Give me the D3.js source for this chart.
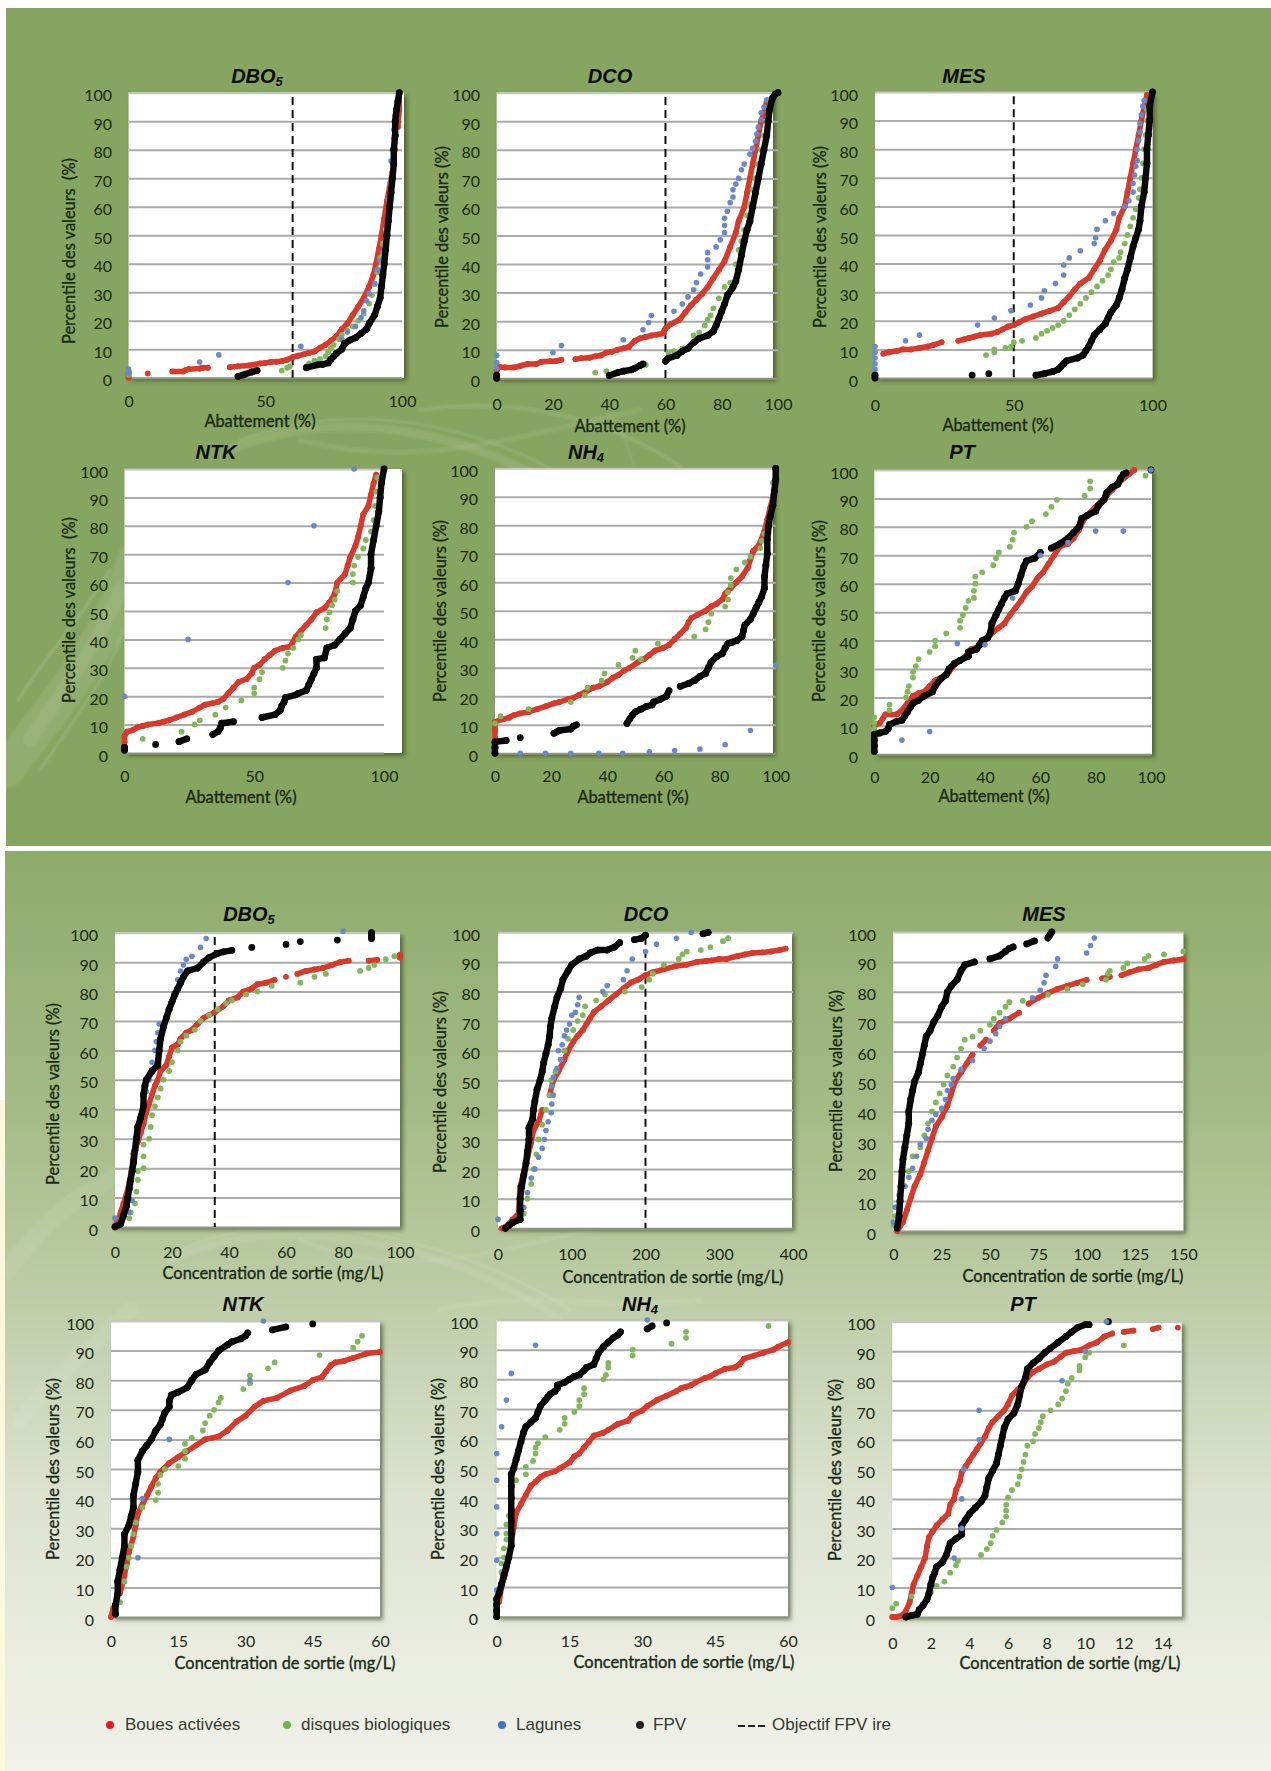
<!DOCTYPE html>
<html><head><meta charset="utf-8"><title>Percentile des valeurs</title>
<style>
html,body{margin:0;padding:0;background:#fff}
svg{display:block}
text{font-family:Lato,"Open Sans",sans-serif;fill:#1b2a17}
.tick text{font-size:16px}
.atitle{font-size:16.4px;white-space:pre;paint-order:stroke;stroke:#1b2a17;stroke-width:.35px}
.ptitle{font-family:"Liberation Sans",Arial,sans-serif;font-size:20px;font-weight:bold;font-style:italic;fill:#0d0d0d}
.leg{font-family:"Liberation Sans",Arial,sans-serif;font-size:17px;fill:#333a30}
</style></head><body>
<script src="https://cdn.jsdelivr.net/npm/d3@7/dist/d3.min.js"></script>
<script>
// ---------- data: [value, percentile] ----------
const aDboRed=[[0,0],[0,1],[0,2],[7,1.5],[16,2.2],[20,2.2],[21,2.7],[22,3],[26,3.2],[27,3.5],[29,3.5],[37,3.7],[40,4],[44,4.3],[46,4.6],[48,5],[50,5.2],[52,5.5],[54,5.6],[56,5.8],[58,6.3],[60,7.2],[62,7.7],[64,8.2],[66,8.7],[68,9.2],[70,10.5],[72,11.5],[74,13],[76,14.5],[78,17],[80,19],[82,22],[84,25],[86,28],[88,32],[89.5,36],[90.5,40],[91.5,45],[92.5,50],[93.5,56],[94.5,62],[95.5,67],[96.5,72],[97.5,80],[98.5,88],[99,94],[99,100]];
const aDboGreen=[[0,1],[0,2],[56,2.5],[58,3.5],[59,4],[65,4],[66,5],[68,6],[70,6.5],[72,7.5],[73,9],[74,10.5],[75,11.5],[77,13.5],[78,15],[80,16.5],[82,18],[84,20],[86,22.5],[88,26],[89,29],[90,33],[91,37],[92,42],[93,47],[94,52]];
const aDboBlue=[[0,3],[0,1.5],[26,5.5],[33,8],[63,11],[78,13.5],[80,16],[83,18],[85,21],[86,23.5],[87,27],[88,29.5],[90,33],[91,38],[92,41],[93,44],[95,62.5],[95.5,68],[96,76],[96.5,80],[97,84],[97,87],[97.5,92]];
const aDboBlack=[[40,0.5],[42,1],[45,2],[47,2.5],[65,3.5],[69,4.5],[71,4.7],[73,5.2],[74,6.5],[75,7.5],[76,8.5],[78,10],[79,12],[81,13.2],[83,14],[85,15.5],[87,17],[88,19],[90,22],[91,25],[92,28],[92.5,32],[93,36],[93.5,40],[94,45],[94.5,50],[95,55],[95.5,60],[96,65],[96.5,70],[97,75],[97,80],[97.5,85],[97.5,90],[98,94],[98.5,97],[99,100]];

const aDcoRed=[[0,1],[0,3],[1,4],[3,3.8],[6,3.8],[8,4.2],[9,4.5],[11,5],[14,5],[16,5.8],[19,6],[21,6],[23,6.5],[28,6.7],[30,7],[33,7.2],[35,7.7],[37,8],[39,9],[41,9.3],[43,10],[45,10.5],[47,11],[49,13],[51,14],[53,14.5],[55,15],[57,15.3],[59,15.7],[60,17.5],[62,19],[65,20.5],[67,23],[69,25.5],[71,27.5],[73,29.5],[75,32],[77,35],[79,38],[81,41],[83,46],[85,51],[86,55],[88,60],[89,65],[90,70],[91,75],[92,80],[93,85],[94,90],[95,93],[96,97]];
const aDcoGreen=[[35,2],[39,2.5],[53,4.7],[61,9],[63,9.5],[66,10.5],[70,15],[72,16],[74,18.5],[75,20.5],[76,22],[77,24.5],[79,28],[81,32],[83,33.5],[85,40],[86,45],[87,48],[88,52],[89,57],[90,61],[91,66],[92,70],[93,75],[94,80],[95,85],[96,90],[97,95],[98,98]];
const aDcoBlue=[[0,8],[0,5.5],[0,3.5],[20,9],[23,11.5],[45,13.5],[52,17],[54,19.5],[55,22],[63,23.5],[66,26],[68,28.5],[70,31],[71,33.5],[72.5,36.5],[75,39],[75,41.5],[75,44],[78,46],[79.5,48.5],[81,51],[81,53.5],[81,56],[82,58.5],[83,61.5],[84,63.5],[84,66],[85,68],[86,70],[87,73],[88,75],[90,78.5],[91,80.5],[92,83],[92.5,85.5],[93,88],[94,90.5],[94,93],[95,95],[96,97.5]];
const aDcoBlack=[[0,0],[0,1],[40,1],[43,2],[45,2.5],[48,3],[49,3.5],[51,4.5],[52,5],[60,6],[61,7],[64,8],[66,9.5],[68,10.5],[70,12.5],[72,14],[75,15],[77,16.5],[78,18.5],[79,21],[80,23.5],[81,26],[82,29],[84,32],[85,34],[86,38],[87,43],[88,48],[89,52],[90,55],[91,60],[92,65],[93,70],[94,75],[95,80],[96,85],[96.5,90],[97,94],[98,98],[99,99.5],[100,100]];

const aMesRed=[[3,8.5],[5,9],[8,9.5],[10,10],[13,10],[16,10.5],[19,11],[21,11.5],[24,12.5],[30,13],[32,13.5],[34,14],[36,14.5],[38,15],[42,15.5],[44,16],[46,17],[48,18],[50,18.5],[52,19.5],[54,20.5],[57,21.5],[60,22.5],[63,23.5],[66,24.5],[68,26.5],[70,28.5],[72,31],[74,33],[77,35],[79,38],[81,41],[83,45],[85,48],[87,52],[88,56],[90,60],[91,65],[92,70],[93,75],[94,80],[95,85],[96,90],[97,95],[98,99]];
const aMesGreen=[[40,8],[43,9],[43,10],[47,10.5],[49,11],[50,12.5],[53,13],[58,14],[60,15.5],[62,16.5],[64,17.5],[66,18.5],[68,20],[70,22],[72,24],[74,26],[76,28],[78,30],[80,32],[82,34],[84,36],[85,38],[86,40.5],[88,42],[88.5,44],[90,47],[91,50],[92,53],[93,56],[94,59],[95,63],[95.5,66],[96,70],[96.5,75],[97,80],[97.5,85],[98,90],[98,94]];
const aMesBlue=[[0,11],[0,9],[0,7],[0,5],[0,3],[11,13],[16,15],[37,18.5],[43,21],[49,23.5],[56,25.5],[60,28],[61,30.5],[65,33],[68,36],[68,39.5],[70,42],[74,44.5],[79,47],[79.5,49],[80,52],[83,55],[86,57.5],[90,60],[91.5,62],[93,65],[93,68],[93.5,71],[94,74],[94.5,76],[94.5,80],[95,83],[95.5,86],[95.5,89],[96,92],[96.5,95],[97,97]];
const aMesBlack=[[0,0],[0,1],[35,1],[41,1.5],[58,1],[61,1.5],[64,2.2],[66,3],[67,4],[68,5],[69,6],[73,7],[75,8],[76,9.5],[77,11],[78,13],[79,15],[81,17],[83,19],[84,21],[85,23],[87,25.5],[88,28],[89,31],[90,35],[91,38],[92,42],[93,46],[94,49],[95,52],[95.5,55],[96,60],[97,65],[97.5,70],[98,75],[98,80],[98.5,85],[99,90],[99,95],[100,100]];

const aNtkRed=[[0,2],[0,4],[0,6],[1,7.5],[3,8],[5,9],[7,9.5],[9,10],[13,10.5],[15,11],[17,11.5],[20,12.5],[23,13.5],[26,14.5],[29,16],[31,17],[34,17.5],[36,18],[38,19],[40,21],[42,23],[44,25],[47,26],[49,28],[50,30],[52,31],[54,33],[56,34.5],[58,36],[61,37],[64,37.5],[66,41],[68,43],[70,45],[72,47],[74,49.5],[77,51],[79,53],[81,56],[82,60],[85,63],[86,66],[87,69],[89,73],[90,76],[91,80],[92,84],[94,87],[95,91],[96,95],[97,98]];
const aNtkGreen=[[7,5],[22,7.5],[27,10],[29,11.5],[35,13.5],[39,16],[45,18.5],[50,21],[50,23],[52,26],[53,28.5],[61,30],[62,32.5],[63,35],[65,37],[67,40],[68,41.5],[77.5,44],[78,47],[79,49.5],[80,52],[81,54],[82,57],[88,60],[88,63],[88.5,66],[90,69],[92,72],[93,75],[95,78],[96,82],[96.5,87],[97,92],[97.5,97]];
const aNtkBlue=[[0,20],[24.5,40],[63,60],[73,80],[88.5,100]];
const aNtkBlack=[[0,1],[0,2],[12,3],[21,4],[24,5],[34,6.5],[36,7.5],[37,9],[37.5,10.5],[42,11],[53,12.5],[58,13.5],[60,15],[60.5,16.5],[61.5,18],[62,19.5],[66,20.5],[67,21],[70,22],[71,24],[72,26],[73,28],[74,30],[74,33],[77,33.5],[78,37],[81,38],[83,40],[85,42],[87,44],[88,47],[89,50],[91,52],[92,55],[93,58],[94,60],[95,65],[95,70],[96,75],[97,80],[98,85],[98.5,90],[99,95],[100,100]];

const aNh4Red=[[0,5],[0,8],[0,11],[3,12],[5,12.5],[7,13.5],[9,14],[12,14.5],[15,15.5],[18,16.5],[21,17.5],[23,18],[26,19],[28,19.5],[30,20.5],[33,22],[35,23],[37,23.5],[40,25],[42,26.5],[44,27.5],[46,29],[48,30],[51,32],[53,33],[55,34.5],[57,36],[60,37],[62,38],[64,40],[66,42],[68,44],[69,46],[70,47.5],[72,48.5],[75,50],[77,51.5],[79,52.5],[81,54],[82,56],[84,58],[86,60],[88,62],[90,65],[91,68],[92,71],[94,73],[96,78],[97,82],[98,86],[99,90],[100,95]];
const aNh4Green=[[0,10.5],[2,13],[12,15.5],[27,18],[32,20.5],[33,23],[38,25.5],[39,28],[44,31],[49,33.5],[50,36],[52,33],[58,38.5],[71,41],[75,43.5],[76,46],[77,49],[82,51.5],[83,54],[83,56.5],[84,59],[84,61.5],[86,64.5],[89,67],[91,69],[94.5,72],[95,74.5],[96,77],[98,80],[99,90],[99,95]];
const aNh4Blue=[[9,0],[18,0],[27,0],[37,0],[45.5,0],[55,0.5],[64,1],[73,1.5],[82,3],[91,8],[100,31]];
const aNh4Black=[[0,0],[0,2],[0,4],[4,4.5],[9,5.5],[21,7],[22,7.5],[23,8],[27,8.5],[28,9.5],[29,10],[47,10.5],[48,12],[49,13.5],[50,14.5],[52,15.5],[54,16.5],[56,17],[56.5,18],[59,19],[61,20],[62,22],[66,23.5],[69,24.5],[71,25.5],[73,27],[75,28],[76,30],[77,32],[79,34],[81,35],[82,37],[83,38.5],[84.5,39],[86,39.5],[88,41],[88.5,43],[89,45],[91,47],[92,49],[93,51],[94,53],[95,55],[96,58],[96,62],[96.5,66],[97,70],[97,75],[97.5,80],[98,83],[99,87],[99.5,92],[100,96],[100,100]];

const aPtRed=[[0,10],[2,11],[3,12.5],[4,14],[6,14],[8,14],[10,15.5],[12,18],[14,20.5],[16,21.5],[18,22],[20,24],[22,26],[25,27.5],[27,29],[29,31.5],[31,33],[33,34.5],[35,37],[37,37.5],[39,39],[41,41],[43,43],[45,44.5],[47,46],[49,49],[51,51.5],[53,54],[55,57],[57,59],[59,62],[61,64],[63,67],[65,70],[67,73],[70,74],[72,76],[74,79],[76,83],[78,85],[80,87],[82,89],[84,91],[86,93],[88,95],[90,97],[92,98.5],[94,100]];
const aPtGreen=[[0,13],[0,11],[0,9],[5.5,17.5],[5.5,15.5],[11.5,20],[12,22],[12.5,24],[14,27],[14,29],[15,31],[16,33.5],[20,36],[22,38],[22,40],[26,42.5],[31,44.5],[31,47],[32,49],[33,51.5],[34,54],[36,55],[36,57.5],[36.5,60],[36.5,62.5],[39,64],[43,66.5],[44,69],[45,71],[49,73],[50,75.5],[50.5,78],[55,80],[57,82],[62,84.5],[64,87],[66,89.5],[76,91],[78,93.5],[78,96],[98,98]];
const aPtBlue=[[10,5],[20,8],[30,39],[40,38.5],[50,55],[60,70],[70,74.5],[80,78.5],[90,78.5],[100,100]];
const aPtBlack=[[0,1],[0,3],[0,5],[0,7],[2,7.5],[4,8],[5,9],[5.5,10.5],[8,11.5],[10,12],[11,13.5],[12,15],[13,16.5],[14,18],[16,19],[18,20.5],[21,22],[22,24],[24,26.5],[26,28],[27,30],[29,32],[31,33],[34,34.5],[34,36],[37,37],[38,38.5],[39,40],[41,41],[42,43],[42.5,46],[44,49],[45,51],[46,53],[47,55],[48,56.5],[51,57.5],[52,60],[53,63],[54,66],[55,68],[58,69],[60,71],[64,72.5],[67,74],[70,76],[72,78],[74,80],[75,83],[77,84],[80,85.5],[81,87.5],[83,89.5],[84,92],[86,94],[88,95],[89,97],[90,98.5],[91,99],[100,100]];

const cDboRed=[[0,0.5],[1,2],[2,5],[3,8],[4,11],[5,15],[6,20],[6.5,25],[7,26],[8,29],[9,32],[10,35],[11,39],[12,42],[13,45],[14,48],[15,50],[16,53],[18,55],[19,58],[20,61],[22,62],[23,64],[25,66],[27,67],[29,69],[31,71],[33,72],[35,73],[38,75],[40,77],[43,78],[45,80],[48,81],[50,82.5],[53,83],[56,84],[60,85],[64,86],[67,87],[70,87.5],[73,88],[76,89],[79,90],[82,90.5],[89,90.5],[92,90.8],[100,91.5],[100,92.5]];
const cDboGreen=[[5,3],[5.5,5],[7,8],[7.5,12],[8,16],[8,19],[10,20],[10,24],[10,28],[12,30],[12.5,34],[13,38],[14,41],[15,44],[16,47],[17,50],[19,53],[20,56],[22,60],[23,63],[25,65],[28,67],[30,70],[33,72],[36,74],[39,76],[41,77],[46,79],[50,80],[55,82],[65,83],[70,85],[74,86],[86,87],[89,88],[91,89],[95,91],[98,92]];
const cDboBlue=[[0,3],[5,5],[6,9],[9,38],[10,42],[11,46],[12,50],[13,56],[14,60],[14.5,63],[15,66],[15.5,69],[22,84],[23,87],[24,89],[25,91],[27,92],[30,95],[32,98],[80,100.5]];
const cDboBlack=[[0,0],[2,1],[3,4],[4,7],[4.5,10],[5,13],[5.5,16],[6,19],[6.5,22],[7,26],[7.5,30],[8,34],[9,37],[10,41],[10,45],[10.5,48],[11,50],[13,53],[15,55],[15.5,60],[16,64],[17,68],[18,71],[19,74],[20,76.5],[21,79],[22,81],[23,83],[24,85],[25.5,87],[29,88],[31,90],[33,91.5],[36,93],[38,93.5],[41,94],[48,95],[60,96],[65,97],[78,97.5],[90,98],[90,99],[90,100]];

const cDcoRed=[[5,0],[10,0.5],[20,3],[28,5],[29,10],[30,14],[35,19],[40,24],[45,29],[48,33],[55,36],[60,40],[70,45],[75,50],[82,53],[90,57],[95,60],[102,63],[108,65],[115,67],[120,69],[125,71],[130,73],[140,75],[150,77],[160,79],[170,81],[180,83],[190,84],[200,85.5],[210,86.5],[225,87.5],[240,88.5],[255,89],[270,90],[282,90.3],[290,90.5],[300,91],[310,91],[325,92],[335,92.5],[345,93],[358,93.2],[370,93.5],[382,94],[390,94.5]];
const cDcoGreen=[[35,5],[40,10],[45,15],[48,20],[52,25],[55,30],[60,35],[65,40],[70,45],[72,50],[78,53],[85,57],[90,60],[95,64],[102,67],[108,70],[115,72],[118,75],[133,77],[145,79],[172,80],[195,81.5],[205,84],[210,86],[225,89],[245,91],[250,92.5],[256,93.5],[275,94],[288,95],[305,97],[312,98]];
const cDcoBlue=[[0,3],[35,7],[40,12],[45,17],[50,20],[55,24],[60,27],[63,30],[65,33],[68,36],[72,39],[73,42],[75,45],[73,48],[75,51],[80,54],[85,57],[82,60],[87,62],[90,65],[93,67],[97,69],[100,72],[105,73],[108,75.5],[110,78],[142,80],[148,82],[170,84],[175,87],[182,91],[200,93.5],[215,96],[242,98],[262,100]];
const cDcoBlack=[[10,0],[15,1],[20,2],[30,3],[30,6],[30,10],[32,14],[35,18],[38,22],[40,26],[42,30],[42,34],[47,37],[48,40],[50,43],[53,47],[57,50],[60,53],[62,56],[65,59],[68,62],[70,65],[71,68],[73,71],[77,75],[80,78],[85,81],[88,84],[95,87],[100,89],[110,91],[120,92],[125,93],[135,94],[148,94],[158,95],[165,96.5],[185,97.5],[195,98],[200,99],[278,99.5],[285,100]];

const cMesRed=[[2,0],[5,3],[7,7],[9,11],[11,15],[14,19],[16,23],[18,27],[20,31],[22,35],[25,38],[28,42],[30,46],[32,50],[35,53],[38,56],[41,59],[45,62],[48,64],[52,67],[55,69.5],[60,71],[65,73],[70,76],[75,78],[80,79.5],[85,81],[90,82],[95,83],[100,84],[108,84.5],[112,85],[118,85.5],[122,86.5],[127,87.5],[132,88],[136,89],[140,90],[145,90.5],[150,91]];
const cMesGreen=[[0,2],[1,5],[3,10],[5,15],[8,20],[10,25],[14,28],[16,32],[18,36],[20,40],[22,43],[24,46],[26,49],[28,52],[31,55],[33,58],[35,61],[37,64],[41,65],[45,67],[50,69],[52,71],[55,73],[58,75],[60,76.5],[67,77],[80,79],[90,81],[98,82.5],[110,84],[111,86],[112,87],[119,88],[121,89.5],[130,91],[132,92],[140,92.5],[150,93.5]];
const cMesBlue=[[0,3],[1,8],[3,12],[6,15],[8,18],[10,21],[12,25],[14,29],[17,31],[18,34],[20,37],[22,39],[25,41],[27,44],[28,47],[30,49],[31,51],[35,54],[41,57],[47,61],[50,63.5],[53,66],[55,68.5],[58,71],[72,78],[76,80.5],[78,83],[79,85.5],[84,88.5],[85,91],[100,93],[102,95.5],[104,98]];
const cMesBlack=[[2,1],[3,5],[3.5,10],[4,15],[4.5,20],[5,24],[6,28],[7,32],[8,36],[8,40],[9,44],[10,47],[11,50],[13,53],[14,56],[15,59],[16,62],[17,65],[19,67],[21,70],[23,72],[25,75],[27,77],[28,80],[30,82],[33,84],[35,87],[37,89],[42,90],[50,91],[55,92],[58,93.5],[60,94.5],[62,95],[69,96],[73,97],[80,98],[81,99],[82,100]];

const cNtkRed=[[0,0],[0.5,3],[2,8],[3,14],[3.5,18],[4,22],[5,27],[5.5,31],[6,35],[7,38],[8,41],[9,44],[10,47],[11,49],[13,52],[15,54],[17,56],[19,58],[21,60],[24,61],[26,63],[28,66],[30,68],[32,71],[34,73],[37,74],[40,76.5],[43,78],[45,80],[47,81],[48,83],[49,85],[50,86],[52,86.5],[54,87.5],[57,89],[60,89.5]];
const cNtkGreen=[[2,5],[3,12],[3.5,17],[4,20],[4.5,24],[5,28],[5.5,32],[7,37],[10,39.5],[10.5,42],[10.5,45],[11,48],[12,50],[15,51],[16.5,53.5],[16.5,56],[16.5,58.5],[18,60.5],[20.5,63],[21,65.5],[22,68],[23,70],[24,72.5],[24.5,74],[29.5,77],[31,79],[31,81.5],[35,84],[36.5,86],[46.5,88.5],[54,91],[55,93],[56,95]];
const cNtkBlue=[[6,20],[7,40],[13,60],[31,80],[34,100]];
const cNtkBlack=[[1,1],[1,4],[1.5,8],[1.5,12],[2,16],[2.5,20],[3,24],[3,28],[4,31],[4.5,34],[5,37],[5,41],[5.5,45],[6,49],[6,53],[7,56],[8,58],[9,60],[10,63],[11,65],[11.5,67],[12,69],[13,71],[13,73],[13.5,75],[15,76],[17,77.5],[18,80],[19,82],[21,83.5],[22,86],[23,88],[24,90],[26,92],[27,93],[29,94],[30,95],[30.5,96],[36,97],[39,98],[45,99]];

const cNh4Red=[[0.5,5],[1,10],[1.5,13],[2,16],[2.5,20],[3,25],[3.5,30],[4,35],[5,38],[6,41],[7,44],[8,45.5],[9,47],[10,48],[12,49],[13,50],[15,52],[16,54],[17,55],[18,57],[19,59],[20,61],[22,62],[23,63],[25,65],[27,66],[28,68],[30,69.5],[31,71],[33,73],[35,74.5],[37,76],[38,77],[39,77.5],[40,78],[41,79],[43,80.5],[44,81],[45,82],[47,83.5],[49,84],[50,85],[51,87],[53,88],[55,89],[57,90],[58,91],[60,92.5]];
const cNh4Green=[[1,15],[1,18],[1.5,20],[1.5,23],[2,26],[2,28],[2,31],[2.5,34],[4,46],[6,48],[6,50.5],[7.5,52.5],[8,55],[8,57],[8.5,58.5],[10,60.5],[13,63],[14,65],[14,67],[16,69],[17,71],[17,73],[18,75],[18,77],[22,80],[22.5,81.5],[23,84],[23,85.5],[28,88],[28,90],[36,92],[39,94],[39,96],[56,98]];
const cNh4Blue=[[0,9],[0,19],[0,28],[0,37],[0,46],[0,55],[1,64],[2,73],[3,82],[8,91.5],[31,100]];
const cNh4Black=[[0,0],[0,2],[0,4],[0,6],[0.5,8],[1,11],[1.5,14],[2,17],[2.5,20],[3,24],[3,28],[3,32],[3,36],[3,40],[3,44],[3,48],[3.5,50],[4,53],[4.5,56],[5,59],[5.5,62],[6,64],[7,65.5],[8,67],[8.5,69],[9,71],[10,73],[10.5,74],[11,75],[12,76],[12.5,77],[12.5,78],[14,79],[15,80],[16,81],[17,81.5],[18,83],[18.5,84],[20,85],[20.5,87],[21,89],[22,91],[23,92.5],[24,94],[25,95],[25.5,96],[31,97],[32,98],[35,99]];

const cPtRed=[[0,0],[0.2,0],[0.5,0.5],[0.7,2],[0.9,5],[1,8],[1.1,11],[1.3,14],[1.5,17],[1.7,20],[1.8,24],[1.9,27],[2.1,29],[2.3,31],[2.6,33],[2.9,35],[3,38],[3.2,40],[3.3,43],[3.5,46],[3.6,49],[3.8,51],[4,53],[4.2,55],[4.4,57],[4.6,59],[4.8,61],[5,64],[5.2,66],[5.5,68],[5.8,70],[6,72],[6.2,75],[6.5,77],[6.8,79],[7,81],[7.3,83],[7.6,84],[8,85.5],[8.4,86.5],[8.7,88],[9,89.5],[9.4,90],[9.8,90.5],[10.2,92],[10.6,93],[11,95],[11.4,96],[12,96.5],[12.5,97],[13.5,97.5],[13.8,98],[14.8,98]];
const cPtGreen=[[0,3],[0.2,4.5],[1,7],[2,8.5],[2.3,10.5],[2.7,12],[3,15],[3.3,17.5],[3.4,19],[4.6,21],[4.9,23],[5.1,25],[5.2,27.5],[5.4,29.5],[5.7,32],[5.9,34],[5.9,36],[5.9,38],[6,40.5],[6.2,43],[6.5,45],[6.6,47.5],[6.7,50],[6.8,52.5],[6.9,55],[7,58],[7.3,59.5],[7.4,62],[7.6,64],[7.7,66],[7.8,68],[8.2,70],[8.6,72],[8.8,74],[9,76.5],[9.1,79],[9.3,81],[9.7,83.5],[9.7,85],[10,88],[10.2,89.5],[12,92]];
const cPtBlue=[[0,10],[3.2,20],[3.6,30],[3.6,40],[3.7,50],[4.5,60],[4.5,70],[8.8,80],[10,90],[11.1,100]];
const cPtBlack=[[0.7,0],[1,0.5],[1.3,1],[1.4,2.5],[1.6,4],[1.8,6],[1.9,8],[2,11],[2.1,13.5],[2.2,15],[2.3,17],[2.6,18.5],[2.8,21],[2.9,23],[3,25],[3.3,26.5],[3.6,28],[3.6,31],[3.8,33],[4,35],[4.3,37],[4.6,39],[4.8,41],[4.9,44],[5,47],[5.2,49.5],[5.4,52],[5.5,55],[5.6,58],[5.7,61],[5.8,64],[6,67],[6.3,69],[6.5,72],[6.6,75],[6.7,78],[6.9,81],[7,84],[7.3,86],[7.6,87.5],[7.9,89.5],[8.2,91],[8.6,93],[9,95],[9.3,96.5],[9.6,98],[10,99],[10.2,99],[11.2,100]];

const percentileTicks=[0,10,20,30,40,50,60,70,80,90,100];
const legendLabels=["Boues activées","disques biologiques","Lagunes","FPV","Objectif FPV ire"];

// ---------- layout ----------
const W=1271,H=1771;
const yT="Percentile des valeurs (%)", yT2="Percentile des valeurs  (%)", xA="Abattement (%)", xC="Concentration de sortie (mg/L)";
const panels=[
{t:"DBO",s:"5",tx:257,ty:76,x0:128.6,x1:402,wr:404,gr:402,top:92.7,bot:377.7,max:100,ticks:[0,50,100],obj:60,yl:112,xl:401,yt:yT2,ytx:68.6,yty:251,xt:xA,xtx:260,xty:420,d:[aDboRed,aDboGreen,aDboBlue,aDboBlack]},
{t:"DCO",tx:610,ty:76,x0:496.7,x1:778,wr:773,gr:778,top:92.7,bot:378.3,max:100,ticks:[0,20,40,60,80,100],obj:60,yl:480,xl:404,yt:yT,ytx:441,yty:237,xt:xA,xtx:630,xty:425,d:[aDcoRed,aDcoGreen,aDcoBlue,aDcoBlack]},
{t:"MES",tx:964,ty:76,x0:875,x1:1152.5,wr:1152.5,gr:1152.5,top:92,bot:378,max:100,ticks:[0,50,100],obj:50,yl:858,xl:405,yt:yT,ytx:819,yty:237,xt:xA,xtx:998,xty:424,d:[aMesRed,aMesGreen,aMesBlue,aMesBlack]},
{t:"NTK",tx:216,ty:452,x0:124.5,x1:384,wr:402,gr:384,top:469,bot:753,max:100,ticks:[0,50,100],yl:108,xl:776,yt:yT2,ytx:68.6,yty:610,xt:xA,xtx:241,xty:796,gapPx:15,d:[aNtkRed,aNtkGreen,aNtkBlue,aNtkBlack]},
{t:"NH",s:"4",tx:586,ty:452,x0:495,x1:775.7,wr:773,gr:775.7,top:468.3,bot:753.3,max:100,ticks:[0,20,40,60,80,100],yl:478,xl:776,yt:yT,ytx:439,yty:611,xt:xA,xtx:633,xty:796,d:[aNh4Red,aNh4Green,aNh4Blue,aNh4Black]},
{t:"PT",tx:962,ty:452,x0:874.3,x1:1151,wr:1152,gr:1151,top:470,bot:754.3,max:100,ticks:[0,20,40,60,80,100],yl:858,xl:777,yt:yT,ytx:818,yty:611,xt:xA,xtx:994,xty:795.5,blueOnTop:true,d:[aPtRed,aPtGreen,aPtBlue,aPtBlack]},
{t:"DBO",s:"5",tx:249,ty:914,x0:115,x1:400,wr:400,gr:400,top:932.7,bot:1227,max:100,ticks:[0,20,40,60,80,100],obj:35,yl:98,xl:1252,yt:yT,ytx:52,yty:1094,xt:xC,xtx:273,xty:1272,d:[cDboRed,cDboGreen,cDboBlue,cDboBlack]},
{t:"DCO",tx:646,ty:914,x0:498,x1:793,wr:792,gr:793,top:932.3,bot:1228.3,max:400,ticks:[0,100,200,300,400],obj:200,yl:480,xl:1254,yt:yT,ytx:439,yty:1082,xt:xC,xtx:673,xty:1276,d:[cDcoRed,cDcoGreen,cDcoBlue,cDcoBlack]},
{t:"MES",tx:1044,ty:914,x0:893.3,x1:1183.3,wr:1183.3,gr:1183.3,top:932,bot:1231,max:150,ticks:[0,25,50,75,100,125,150],yl:876,xl:1254,yt:yT,ytx:835,yty:1081,xt:xC,xtx:1073,xty:1275,d:[cMesRed,cMesGreen,cMesBlue,cMesBlack]},
{t:"NTK",tx:243,ty:1304,x0:111,x1:380,wr:380,gr:380,top:1321,bot:1617,max:60,ticks:[0,15,30,45,60],yl:94,xl:1641,yt:yT,ytx:52,yty:1469,xt:xC,xtx:285,xty:1662,gapPx:16,d:[cNtkRed,cNtkGreen,cNtkBlue,cNtkBlack]},
{t:"NH",s:"4",tx:640,ty:1304,x0:496.7,x1:788,wr:788,gr:788,top:1320,bot:1616.7,max:60,ticks:[0,15,30,45,60],yl:478,xl:1641,yt:yT,ytx:437.5,yty:1469,xt:xC,xtx:684,xty:1661,d:[cNh4Red,cNh4Green,cNh4Blue,cNh4Black]},
{t:"PT",tx:1023,ty:1304,x0:892.3,x1:1181.7,wr:1181.7,gr:1181.7,top:1321.7,bot:1617,max:15,ticks:[0,2,4,6,8,10,12,14],yl:875,xl:1643,yt:yT,ytx:834,yty:1470,xt:xC,xtx:1070,xty:1662,blueOnTop:true,d:[cPtRed,cPtGreen,cPtBlue,cPtBlack]}
];
const marks=[
 {color:"#d8392b",r:2.9,link:true},
 {color:"#7fb75a",r:2.9,link:false},
 {color:"#6a87cb",r:2.8,link:false},
 {color:"#090909",r:3.4,link:true}
];

const svg=d3.select("body").append("svg").attr("width",W).attr("height",H).attr("viewBox",`0 0 ${W} ${H}`);
const defs=svg.append("defs");
const grad=defs.append("linearGradient").attr("id","bg").attr("x1",0).attr("y1",0).attr("x2",0).attr("y2",1);
[[0,"#8dab6b"],[.27,"#a3ba84"],[.48,"#bdcca6"],[.7,"#dbe2cf"],[.87,"#e9ecdf"],[1,"#f0f1ea"]].forEach(s=>grad.append("stop").attr("offset",s[0]).attr("stop-color",s[1]));
const sh=defs.append("filter").attr("id","sh").attr("x","-5%").attr("y","-5%").attr("width","115%").attr("height","115%");
sh.append("feDropShadow").attr("dx",3).attr("dy",3).attr("stdDeviation",2.2).attr("flood-color","#2c3a18").attr("flood-opacity",.6);
const blur=defs.append("filter").attr("id","soft");blur.append("feGaussianBlur").attr("stdDeviation",1);

svg.append("rect").attr("x",0).attr("y",1100).attr("width",6).attr("height",671).attr("fill","#fdf8dc");
svg.append("rect").attr("x",6).attr("y",8).attr("width",W-6).attr("height",838).attr("fill","#86a561");
svg.append("rect").attr("x",5).attr("y",851).attr("width",W-5).attr("height",920).attr("fill","url(#bg)");

// faint background watermark swirls
const deco=svg.append("g").attr("fill","none").attr("stroke","#fff").attr("stroke-linecap","round").attr("filter","url(#soft)");
[
 ["M6 770C60 700 110 640 135 560",36,.09],["M30 740C70 680 100 640 120 590",14,.07],["M18 700C50 650 80 620 110 570",3,.14],["M40 770C80 710 120 660 130 610",3,.12],
 ["M230 450C350 400 480 440 560 490",9,.09],["M240 440C360 395 490 430 570 480",2,.14],["M300 440C420 470 500 440 640 410",5,.08],
 ["M420 410C520 395 640 420 720 500",4,.1],["M610 415C650 470 640 520 600 560",3,.07],
 ["M8 1270C60 1200 100 1180 160 1160",18,.07],["M170 1260C300 1200 480 1260 560 1320",7,.08],["M180 1250C300 1195 480 1250 570 1310",2,.13],
 ["M300 1240C420 1290 520 1240 640 1220",4,.08],["M20 1420C60 1370 100 1340 130 1310",16,.06],
 ["M440 1310C520 1290 600 1310 700 1300",5,.08]
].forEach(d=>deco.append("path").attr("d",d[0]).attr("stroke-width",d[1]).attr("stroke-opacity",d[2]));

panels.forEach(p=>{
  const g=svg.append("g");
  const x=d3.scaleLinear().domain([0,p.max]).range([p.x0,p.x1]);
  const y=d3.scaleLinear().domain([0,100]).range([p.bot,p.top]);
  g.append("rect").attr("x",p.x0).attr("y",p.top).attr("width",p.wr-p.x0).attr("height",p.bot-p.top).attr("fill","#fff").attr("filter","url(#sh)");

  // grid built with the library's axis
  const grid=g.append("g").attr("transform",`translate(${p.x0},0)`)
    .call(d3.axisLeft(y).tickValues(percentileTicks).tickFormat("").tickSize(-(p.gr-p.x0)));
  grid.select(".domain").remove();
  grid.selectAll("line").attr("stroke","#a9aba8").attr("stroke-width",2);
  grid.selectAll(".tick").filter(d=>d===0).select("line").attr("stroke","#8f9483");
  grid.selectAll(".tick").filter(d=>d===100).select("line").attr("stroke","#c4c6c2");

  // y labels
  const ya=g.append("g").attr("transform",`translate(${p.yl},0)`).call(d3.axisLeft(y).tickValues(percentileTicks).tickSize(0).tickPadding(0));
  ya.select(".domain").remove();
  ya.selectAll("text").attr("dy","0.5em");

  // x labels
  const xa=g.append("g").attr("transform",`translate(0,${p.bot})`).call(d3.axisBottom(x).tickValues(p.ticks).tickSize(0));
  xa.select(".domain").remove();
  xa.selectAll("text").attr("y",p.xl-p.bot).attr("dy","0.35em");

  // objective line
  if(p.obj!==undefined){
    g.append("line").attr("x1",x(p.obj)).attr("x2",x(p.obj)).attr("y1",y(98.5)).attr("y2",p.bot)
     .attr("stroke","#111").attr("stroke-width",2).attr("stroke-dasharray","8 5");
  }

  // marks: blue sits under the black series except in the PT panels
  const order=p.blueOnTop?[0,1,3,2]:[0,1,2,3];
  const gapPx=p.gapPx||11.5;
  order.forEach(i=>{
    const m=marks[i], pts=p.d[i], s=g.append("g");
    if(m.link){
      const line=d3.line().x(d=>x(d[0])).y(d=>y(d[1]));
      d3.pairs(pts).filter(([a,b])=>{
        const dx=Math.abs(x(a[0])-x(b[0])),dy=Math.abs(y(a[1])-y(b[1]));
        return Math.hypot(dx,dy)<gapPx||(dx<6&&dy<18);
      }).forEach(seg=>{
        s.append("path").attr("d",line(seg)).attr("fill","none").attr("stroke",m.color).attr("stroke-width",m.r*1.9).attr("stroke-linecap","round");
      });
    }
    s.selectAll("circle").data(pts).join("circle").attr("cx",d=>x(d[0])).attr("cy",d=>y(d[1])).attr("r",m.r).attr("fill",m.color);
  });

  // titles
  const tt=g.append("text").attr("class","ptitle").attr("x",p.tx).attr("y",p.ty).attr("text-anchor","middle").attr("dominant-baseline","central").text(p.t);
  if(p.s) tt.append("tspan").attr("dy",5).attr("font-size",13).text(p.s);
  g.append("text").attr("class","atitle").attr("text-anchor","middle").attr("dominant-baseline","central")
    .attr("transform",`translate(${p.ytx},${p.yty}) rotate(-90)`).text(p.yt);
  g.append("text").attr("class","atitle").attr("x",p.xtx).attr("y",p.xty).attr("text-anchor","middle").attr("dominant-baseline","central").text(p.xt);
});

// legend
const legY=1724, leg=svg.append("g");
const legX=d3.scaleOrdinal().domain(legendLabels).range([110,287,502,640]);
const legText=d3.scaleOrdinal().domain(legendLabels).range([125,301,516,653,772]);
const legColor=["#e41e1e","#6fb64a","#3f74c8","#222"];
legendLabels.slice(0,4).forEach((l,i)=>leg.append("circle").attr("cx",legX(l)).attr("cy",legY+1).attr("r",4).attr("fill",legColor[i]));
leg.append("line").attr("x1",738).attr("x2",765).attr("y1",legY+2).attr("y2",legY+2).attr("stroke","#222").attr("stroke-width",2.2).attr("stroke-dasharray","7 3");
legendLabels.forEach(l=>leg.append("text").attr("class","leg").attr("x",legText(l)).attr("y",legY).attr("dominant-baseline","central").text(l));
</script>
</body></html>
